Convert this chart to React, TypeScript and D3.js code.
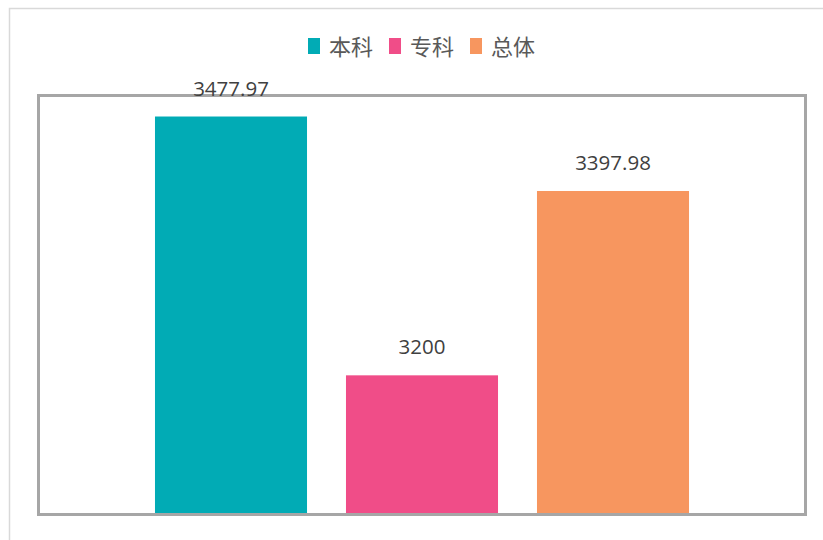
import React from "react";
import * as d3 from "d3";

const categories = ["本科", "专科", "总体"];
const values = [3477.97, 3200, 3397.98];
const labels = ["3477.97", "3200", "3397.98"];
const colors = ["#01abb5", "#f04d88", "#f7965f"];

export default function App() {
  const W = 823, H = 540;
  const x = d3.scaleBand<string>().domain(categories).range([135.5, 708.5]).paddingInner(0.204).paddingOuter(0.102);
  const y = d3.scaleLinear().domain([3050, 3500]).range([515, 96]);
  const font = "'Microsoft YaHei', 'Noto Sans CJK SC', 'Noto Sans', sans-serif";
  const numFont = "'Open Sans', 'Noto Sans', sans-serif";
  const legendX = [308, 389, 470];
  return (
    <svg width={W} height={H} style={{ position: "absolute", left: 0, top: 0, background: "#fff" }}>
      <rect x={0} y={0} width={W} height={H} fill="#fff" />
      <path d={`M9.5,${H} V8.5 H${W}`} fill="none" stroke="#d9d9d9" strokeWidth={1.5} />
      {categories.map((c, i) => (
        <g key={c}>
          <rect x={legendX[i]} y={38} width={12} height={16} fill={colors[i]} />
          <text x={legendX[i] + 21} y={55} fontSize={22} fill="#595959" fontFamily={font}>{c}</text>
        </g>
      ))}
      {categories.map((c, i) => (
        <rect key={c} x={x(c)} y={y(values[i])} width={x.bandwidth()} height={515 - y(values[i])} fill={colors[i]} />
      ))}
      <rect x={38.5} y={95.5} width={767} height={419} fill="none" stroke="#a6a6a6" strokeWidth={3} />
      {categories.map((c, i) => (
        <text key={c} x={(x(c) as number) + x.bandwidth() / 2} y={y(values[i]) - 21} textAnchor="middle" fontSize={20.5} fill="#404040" fontFamily={numFont}>{labels[i]}</text>
      ))}
    </svg>
  );
}
